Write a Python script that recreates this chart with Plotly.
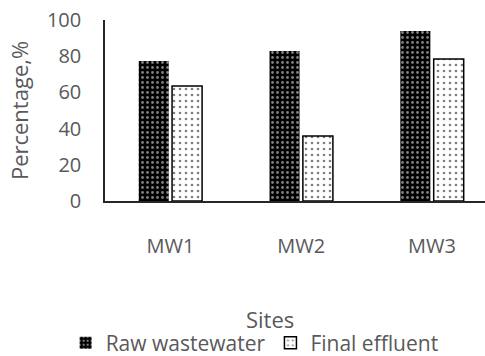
import plotly.graph_objects as go

# Removal percentages per site
sites = ["MW1", "MW2", "MW3"]
raw_wastewater = [77.3, 82.9, 93.9]
final_effluent = [63.5, 35.9, 78.5]

FONT = "Open Sans"
GREY = "#595959"

fig = go.Figure()
fig.add_trace(go.Bar(
    x=sites, y=raw_wastewater, name="Raw wastewater",
    marker=dict(
        color="black",
        line=dict(color="black", width=0),
        pattern=dict(shape=".", fgcolor="white", bgcolor="black",
                     size=5, solidity=0.25, fillmode="overlay"),
    ),
))
fig.add_trace(go.Bar(
    x=sites, y=final_effluent, name="Final effluent",
    marker=dict(
        color="white",
        line=dict(color="black", width=1.5),
        pattern=dict(shape=".", fgcolor="black", bgcolor="white",
                     size=6, solidity=0.15, fillmode="overlay"),
    ),
))

fig.update_layout(
    template="none",
    width=485, height=356,
    margin=dict(l=105, r=0, t=20, b=155, autoexpand=False),
    paper_bgcolor="white", plot_bgcolor="white",
    barmode="group", bargap=0.49, bargroupgap=0.1,
    font=dict(family=FONT, size=20, color=GREY),
    showlegend=True,
    legend=dict(
        orientation="h", xref="container", x=0.525, xanchor="center",
        yref="container", y=0.036, yanchor="middle",
        font=dict(family=FONT, size=21, color=GREY),
        itemwidth=30, tracegroupgap=0, bgcolor="rgba(0,0,0,0)",
    ),
    annotations=[dict(
        text="Sites", xref="paper", yref="paper",
        x=0.434, y=(201 - 319) / 181, xanchor="center", yanchor="middle",
        showarrow=False, font=dict(family=FONT, size=22, color=GREY),
    )],
)
fig.update_xaxes(
    range=[-0.5, 2.405], automargin=False,
    showline=True, linecolor="#262626", linewidth=1.5,
    showgrid=False, zeroline=False, ticks="", ticklabelstandoff=26,
    tickfont=dict(family=FONT, size=20, color=GREY),
)
fig.update_yaxes(
    range=[0, 100], tickvals=[0, 20, 40, 60, 80, 100], automargin=False,
    showline=True, linecolor="#262626", linewidth=1.5,
    showgrid=False, zeroline=False, ticks="", ticklabelstandoff=18,
    tickfont=dict(family=FONT, size=20, color=GREY),
    title=dict(text="Percentage,%", standoff=12,
               font=dict(family=FONT, size=22, color=GREY)),
)

fig.write_html("out.html")
